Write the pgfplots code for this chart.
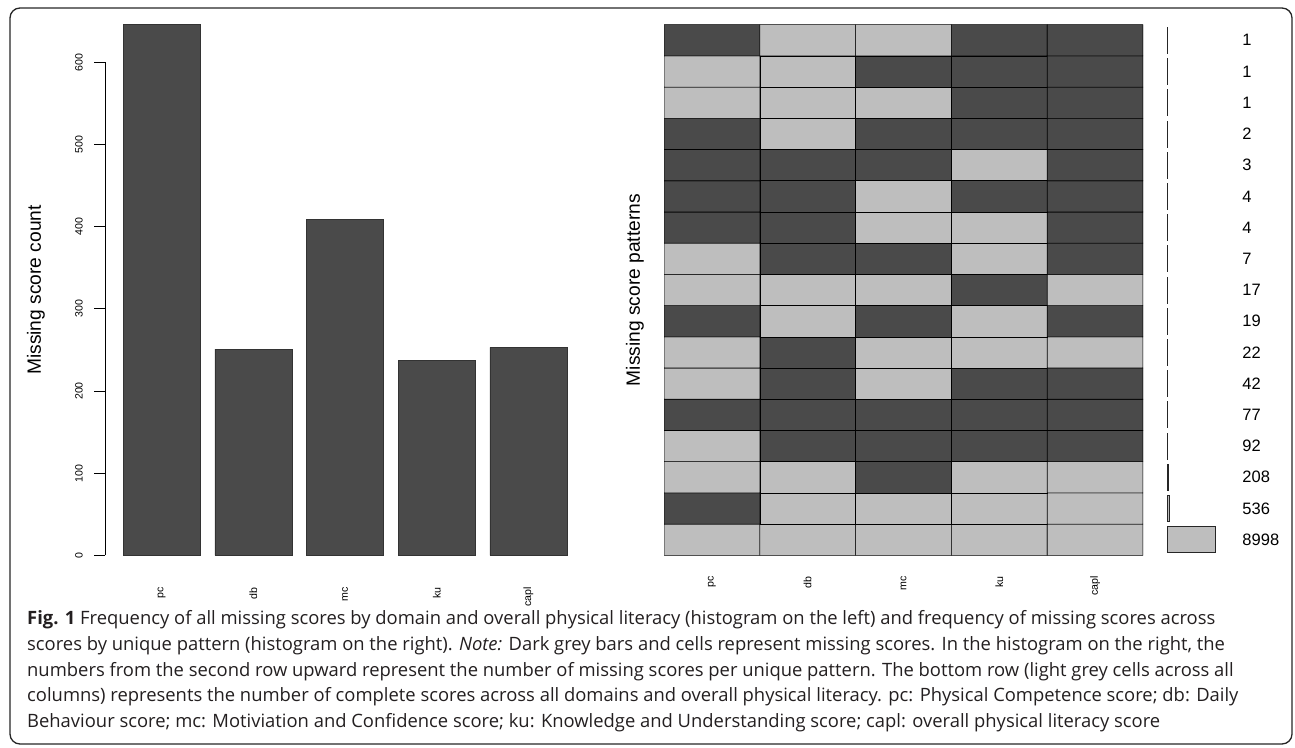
\documentclass[border=0pt]{standalone}
\usepackage{fontspec}
\setmainfont{Liberation Sans}
\newfontfamily\capfont{Open Sans}
\usepackage{pgfplots}
\pgfplotsset{compat=1.18}
\definecolor{dgrey}{RGB}{74,74,74}
\definecolor{lgrey}{RGB}{190,190,190}
\definecolor{captxt}{RGB}{35,31,32}

\pgfplotstableread{
x y c
1 1 1
2 1 1
3 1 1
4 1 1
5 1 1
1 2 0
2 2 1
3 2 1
4 2 1
5 2 1
1 3 1
2 3 1
3 3 0
4 3 1
5 3 1
1 4 1
2 4 0
3 4 0
4 4 0
5 4 0
1 5 0
2 5 0
3 5 0
4 5 0
5 5 0
1 6 1
2 6 0
3 6 1
4 6 0
5 6 0
1 7 1
2 7 0
3 7 1
4 7 1
5 7 1
1 8 0
2 8 1
3 8 0
4 8 1
5 8 0
1 9 1
2 9 1
3 9 1
4 9 0
5 9 1
1 10 1
2 10 0
3 10 0
4 10 1
5 10 0
1 11 0
2 11 0
3 11 1
4 11 1
5 11 0
1 12 0
2 12 0
3 12 1
4 12 0
5 12 0
1 13 0
2 13 0
3 13 0
4 13 1
5 13 0
1 14 0
2 14 1
3 14 0
4 14 0
5 14 0
1 15 1
2 15 1
3 15 1
4 15 0
5 15 0
1 16 1
2 16 1
3 16 0
4 16 0
5 16 0
1 17 0
2 17 1
3 17 1
4 17 0
5 17 0
}\patterns

\pgfplotstableread{
n y
8998 1
536 2
208 3
92 4
77 5
42 6
22 7
19 8
17 9
7 10
4 11
4 12
3 13
2 14
1 15
1 16
1 17
}\counts

\begin{document}
\begin{tikzpicture}[x=1pt,y=1pt]
\useasboundingbox (0,0) rectangle (1295,747);
\draw[line width=1.3pt, rounded corners=10pt, black!85] (10,3) rectangle (1292,739);

% left histogram
\begin{axis}[
  at={(105pt,191.7pt)}, anchor=south west, scale only axis,
  width=480pt, height=530.6pt,
  xmin=0.384, xmax=5.616, ymin=0, ymax=646,
  ybar, bar width=77pt, clip=false,
  axis line style={draw=none},
  xtick={1,...,5}, xticklabels={pc,db,mc,ku,capl},
  xtick style={draw=none},
  ytick={0,100,...,600}, ytick pos=left,
  tick align=outside, major tick length=11pt,
  ytick style={black, line width=0.8pt},
  /pgf/number format/assume math mode=true,
  yticklabel style={xshift=-11pt, rotate=90, anchor=south, inner sep=0pt, font=\fontsize{10.6}{12}\selectfont},
  xticklabel style={yshift=-21pt, rotate=90, anchor=east, inner sep=0pt, font=\fontsize{10.6}{12}\selectfont},
  ylabel={Missing score count},
  every axis y label/.style={at={(axis description cs:0,0.5)}, xshift=-69pt, rotate=90, anchor=center, font=\fontsize{19.2}{22}\selectfont},
]
\addplot[fill=dgrey, draw=black!80, line width=0.5pt] coordinates {(1,646) (2,251) (3,409) (4,237) (5,253)};
\draw[line width=0.8pt] (axis cs:0.384,0) -- (axis cs:0.384,600);
\end{axis}

% pattern grid
\begin{axis}[
  at={(664pt,191.7pt)}, anchor=south west, scale only axis,
  width=479pt, height=530.6pt,
  xmin=0.5, xmax=5.5, ymin=0.5, ymax=17.5,
  axis line style={draw=none},
  xtick={1,...,5}, xticklabels={pc,db,mc,ku,capl},
  xtick style={draw=none}, ytick=\empty,
  colormap={gr}{rgb255=(74,74,74) rgb255=(190,190,190)},
  point meta min=0, point meta max=1,
  xticklabel style={yshift=-21pt, rotate=90, anchor=east, inner sep=0pt, font=\fontsize{10.6}{12}\selectfont},
  ylabel={Missing score patterns},
  every axis y label/.style={at={(axis description cs:0,0.5)}, xshift=-29pt, rotate=90, anchor=center, font=\fontsize{19.2}{22}\selectfont},
]
\addplot[matrix plot*, mesh/cols=5, point meta=explicit, draw=black, line width=0.6pt] table[x=x, y=y, meta=c] {\patterns};
\end{axis}

% pattern counts
\begin{axis}[
  at={(1167pt,191.7pt)}, anchor=south west, scale only axis,
  width=64pt, height=530.6pt,
  xmin=0, xmax=12000, ymin=0.5, ymax=17.5,
  xbar, bar width=26pt, clip=false,
  axis line style={draw=none}, xtick=\empty,
  ytick={1,...,17},
  yticklabels={8998,536,208,92,77,42,22,19,17,7,4,4,3,2,1,1,1},
  yticklabel pos=right, ytick style={draw=none},
  yticklabel style={anchor=west, inner sep=0pt, xshift=7pt, font=\fontsize{16.5}{18}\selectfont},
]
\addplot[fill=lgrey, draw=black!85, line width=0.8pt] table[x=n, y=y] {\counts};
\end{axis}

% caption
\begin{scope}[every node/.style={anchor=base west, inner sep=0pt, text=captxt, font=\capfont\fontsize{18.4}{22}\selectfont}]
\node at (27,122) {\textbf{Fig. 1} Frequency of all missing scores by domain and overall physical literacy (histogram on the left) and frequency of missing scores across};
\node at (27,96.5) {scores by unique pattern (histogram on the right). \textit{Note:} Dark grey bars and cells represent missing scores. In the histogram on the right, the};
\node at (27,71) {numbers from the second row upward represent the number of missing scores per unique pattern. The bottom row (light grey cells across all};
\node at (27,45.5) {columns) represents the number of complete scores across all domains and overall physical literacy. pc: Physical Competence score; db: Daily};
\node at (27,20) {Behaviour score; mc: Motiviation and Confidence score; ku: Knowledge and Understanding score; capl: overall physical literacy score};
\end{scope}
\end{tikzpicture}
\end{document}
